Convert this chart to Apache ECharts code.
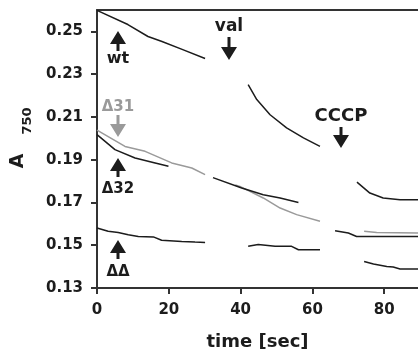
<!DOCTYPE html>
<html><head><meta charset="utf-8">
<script src="https://cdn.jsdelivr.net/npm/echarts@6/dist/echarts.min.js"></script>
<style>html,body{margin:0;padding:0;background:#fff}#c{width:418px;height:354px}</style>
</head><body><div id="c"></div>
<script>
// ---- data (time in sec, A750); null = gap between recording periods ----
const timeWt = [0, 8.6, 14.2, 18.1, 23.7, 30.1, null, 42.1, 44.5, 48.2, 52.8, 57.5, 62.1, null, 72.4, 76.0, 79.7, 84.4, 89.4];
const absWt  = [0.2598, 0.2532, 0.2476, 0.2453, 0.2416, 0.2373, null, 0.2251, 0.2181, 0.2110, 0.2049, 0.2002, 0.1962, null, 0.1795, 0.1744, 0.1721, 0.1713, 0.1713];

const time31 = [0, 7.8, 13.4, 20.8, 26.4, 30.1, null, 38.5, 39.8, 46.3, 51.0, 55.6, 62.1, null, 74.4, 77.9, 89.4];
const abs31  = [0.2038, 0.1962, 0.1939, 0.1885, 0.1861, 0.1830, null, 0.1782, 0.1775, 0.1721, 0.1674, 0.1643, 0.1612, null, 0.1565, 0.1560, 0.1557];

const time32 = [0, 5.0, 10.6, 16.2, 19.9, null, 32.3, 40.3, 46.3, 51.0, 56.1, null, 66.3, 70.0, 72.3, 89.4];
const abs32  = [0.2017, 0.1947, 0.1908, 0.1885, 0.1869, null, 0.1816, 0.1768, 0.1736, 0.1721, 0.1700, null, 0.1568, 0.1557, 0.1541, 0.1541];

const timeDD = [0, 3.1, 5.9, 8.7, 11.5, 15.7, 18.0, 23.6, 27.3, 30.1, null, 42.1, 44.9, 49.6, 54.2, 56.1, 62.1, null, 74.4, 77.0, 80.7, 82.5, 84.4, 89.4];
const absDD  = [0.1581, 0.1565, 0.1560, 0.1549, 0.1541, 0.1539, 0.1523, 0.1518, 0.1515, 0.1513, null, 0.1495, 0.1503, 0.1495, 0.1495, 0.1479, 0.1479, null, 0.1424, 0.1412, 0.1401, 0.1398, 0.1389, 0.1389];

const xTicks = [0, 20, 40, 60, 80];
const yTicks = [0.13, 0.15, 0.17, 0.19, 0.21, 0.23, 0.25];
// ------------------------------------------------------------------------

function pairs(t, a) {
  return t.map((v, i) => (v === null || a[i] === null) ? ['-', '-'] : [v, a[i]]);
}
const FONT = 'DejaVu Sans';
const BLACK = '#1c1c1c', GRAY = '#9a9a9a';

function arrow(cx, tip, end, color) {
  const hw = 8, hh = 13, sw = 1.5;
  const d = end > tip ? 1 : -1;
  const b = tip + d * hh;
  return { type: 'polygon', silent: true,
    shape: { points: [[cx, tip], [cx + hw, b], [cx + sw, b], [cx + sw, end], [cx - sw, end], [cx - sw, b], [cx - hw, b]] },
    style: { fill: color } };
}
function label(x, y, text, size, color) {
  return { type: 'text', x: x, y: y, silent: true,
    style: { text: text, font: 'bold ' + size + 'px "' + FONT + '"', fill: color, align: 'center', verticalAlign: 'middle' } };
}

const chart = echarts.init(document.getElementById('c'), null, { renderer: 'canvas' });
const axisLineStyle = { color: '#333', width: 2 };
const option = {
  animation: false,
  grid: { left: 97, right: 0, top: 10, bottom: 66, containLabel: false, outerBoundsMode: 'none' },
  xAxis: [{
    type: 'value', min: 0, max: 89.4, interval: 20,
    name: 'time [sec]', nameLocation: 'middle', nameGap: 45,
    nameTextStyle: { fontFamily: FONT, fontWeight: 'bold', fontSize: 18, color: BLACK },
    axisLine: { show: true, onZero: false, lineStyle: axisLineStyle },
    axisTick: { show: true, length: 6, customValues: xTicks, lineStyle: axisLineStyle },
    axisLabel: { customValues: xTicks, margin: 15, fontFamily: FONT, fontWeight: 'bold', fontSize: 15, color: BLACK },
    splitLine: { show: false }
  }, {
    type: 'value', position: 'top', min: 0, max: 89.4,
    axisLine: { show: true, onZero: false, lineStyle: axisLineStyle },
    axisTick: { show: false }, axisLabel: { show: false }, splitLine: { show: false }
  }],
  yAxis: {
    type: 'value', min: 0.13, max: 0.26, interval: 0.01,
    axisLine: { show: true, onZero: false, lineStyle: axisLineStyle },
    axisTick: { show: true, length: 6, customValues: yTicks, lineStyle: axisLineStyle },
    axisLabel: { customValues: yTicks, margin: 14, formatter: v => v.toFixed(2),
      fontFamily: FONT, fontWeight: 'bold', fontSize: 15, color: BLACK },
    splitLine: { show: false }
  },
  series: [
    { name: 'wt', type: 'line', data: pairs(timeWt, absWt) },
    { name: 'Δ31', type: 'line', data: pairs(time31, abs31), color: GRAY },
    { name: 'Δ32', type: 'line', data: pairs(time32, abs32) },
    { name: 'ΔΔ', type: 'line', data: pairs(timeDD, absDD) }
  ].map(s => Object.assign({ showSymbol: false, symbol: 'none', connectNulls: false, smooth: false,
    color: BLACK, lineStyle: { width: 1.5, color: s.color || BLACK } }, s)),
  graphic: [
    // y-axis title A750
    { type: 'text', x: 18, y: 161, rotation: Math.PI / 2, silent: true,
      style: { text: 'A', font: 'bold 19px "' + FONT + '"', fill: BLACK, align: 'center', verticalAlign: 'middle' } },
    { type: 'text', x: 28, y: 121, rotation: Math.PI / 2, silent: true,
      style: { text: '750', font: 'bold 13px "' + FONT + '"', fill: BLACK, align: 'center', verticalAlign: 'middle' } },
    arrow(118, 31, 51, BLACK), label(118, 59, 'wt', 16, BLACK),
    label(118, 107, 'Δ31', 15, GRAY), arrow(118, 137, 115, GRAY),
    arrow(118, 158, 177, BLACK), label(118, 189, 'Δ32', 15, BLACK),
    arrow(118, 240, 259, BLACK), label(118, 272, 'ΔΔ', 15, BLACK),
    label(229, 27, 'val', 17, BLACK), arrow(229, 60, 37, BLACK),
    label(341, 116, 'CCCP', 18, BLACK), arrow(341, 148, 127, BLACK)
  ]
};
chart.setOption(option);
</script></body></html>
